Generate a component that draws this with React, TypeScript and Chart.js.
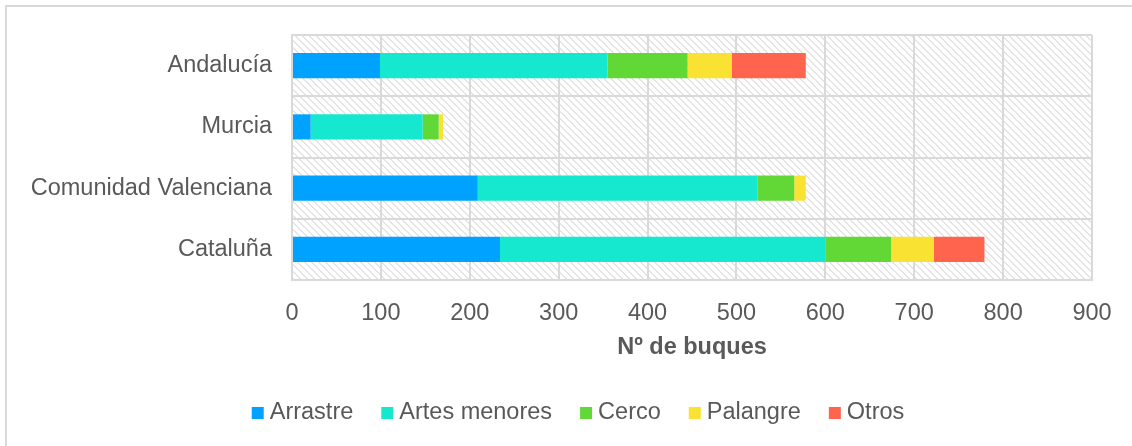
import React, { useEffect, useRef } from "react";
import { Chart, registerables } from "chart.js";

Chart.register(...registerables);

const categories = ["Andalucía", "Murcia", "Comunidad Valenciana", "Cataluña"];
const arrastre = [99, 21, 209, 234];
const artesMenores = [256, 126, 315, 366];
const cerco = [90, 18, 41, 74];
const palangre = [50, 5, 13, 48];
const otros = [83, 0, 0, 57];
const seriesNames = ["Arrastre", "Artes menores", "Cerco", "Palangre", "Otros"];
const seriesColors = ["#00A2FF", "#16E7CF", "#61D836", "#FAE232", "#FF644E"];
const xTickValues = [0, 100, 200, 300, 400, 500, 600, 700, 800, 900];
const xTitle = "Nº de buques";

const FONT_FAMILY = "'Liberation Sans', Arial, sans-serif";
const TEXT_COLOR = "#595959";
const GRID_COLOR = "#d9d9d9";
const FONT_SIZE = 23.5;

function makeHatch(): CanvasPattern | string {
  const size = 7;
  const tile = document.createElement("canvas");
  tile.width = size;
  tile.height = size;
  const t = tile.getContext("2d");
  if (!t) return "#ffffff";
  t.fillStyle = "#ffffff";
  t.fillRect(0, 0, size, size);
  t.fillStyle = "#e4e4e4";
  for (let i = 0; i < size; i++) {
    t.fillRect(i, i, 1, 1);
    t.fillRect((i + 1) % size, i, 1, 1);
  }
  const c = document.createElement("canvas").getContext("2d");
  const p = c ? c.createPattern(tile, "repeat") : null;
  return p || "#ffffff";
}

const hatchPlugin = {
  id: "hatchBg",
  beforeDraw(chart: any) {
    const { ctx, chartArea } = chart;
    if (!chartArea) return;
    ctx.save();
    ctx.fillStyle = chart.$hatch;
    ctx.fillRect(chartArea.left, chartArea.top, chartArea.right - chartArea.left, chartArea.bottom - chartArea.top);
    ctx.restore();
  },
};

const legendPlugin = {
  id: "customLegend",
  afterDraw(chart: any) {
    const ctx = chart.ctx;
    const datasets = chart.data.datasets;
    const box = 12;
    const boxGap = 6;
    const itemGap = 28;
    const centerX = 578;
    const centerY = 413;
    ctx.save();
    ctx.font = `${FONT_SIZE}px ${FONT_FAMILY}`;
    ctx.textBaseline = "middle";
    ctx.textAlign = "left";
    const widths = datasets.map((d: any) => ctx.measureText(d.label).width);
    let total = 0;
    widths.forEach((w: number, i: number) => {
      total += box + boxGap + w + (i < widths.length - 1 ? itemGap : 0);
    });
    let x = centerX - total / 2;
    datasets.forEach((d: any, i: number) => {
      ctx.fillStyle = d.backgroundColor;
      ctx.fillRect(x, centerY - box / 2, box, box);
      x += box + boxGap;
      ctx.fillStyle = TEXT_COLOR;
      ctx.fillText(d.label, x, centerY);
      x += widths[i] + itemGap;
    });
    ctx.restore();
  },
};

export default function App() {
  const canvasRef = useRef<HTMLCanvasElement | null>(null);

  useEffect(() => {
    const canvas = canvasRef.current;
    if (!canvas) return;
    const seriesValues = [arrastre, artesMenores, cerco, palangre, otros];
    const chart: any = new Chart(canvas, {
      type: "bar",
      data: {
        labels: categories,
        datasets: seriesNames.map((name, i) => ({
          label: name,
          data: seriesValues[i],
          backgroundColor: seriesColors[i],
          borderWidth: 0,
          categoryPercentage: 1,
          barPercentage: 0.41,
        })),
      },
      options: {
        indexAxis: "y",
        responsive: false,
        animation: false,
        layout: { padding: { left: 0, top: 35, right: 40, bottom: 83 } },
        plugins: {
          legend: { display: false },
          tooltip: { enabled: false },
          title: { display: false },
        },
        scales: {
          x: {
            stacked: true,
            min: 0,
            max: 900,
            afterBuildTicks: (scale: any) => {
              scale.ticks = xTickValues.map((v) => ({ value: v }));
            },
            afterFit: (scale: any) => {
              scale.height = 83;
            },
            grid: { color: GRID_COLOR, lineWidth: 2, drawTicks: false },
            border: { display: true, color: GRID_COLOR, width: 2 },
            ticks: {
              color: TEXT_COLOR,
              font: { family: FONT_FAMILY, size: FONT_SIZE },
              padding: 19,
              maxRotation: 0,
              autoSkip: false,
            },
            title: {
              display: true,
              text: xTitle,
              color: TEXT_COLOR,
              font: { family: FONT_FAMILY, size: FONT_SIZE, weight: "bold" },
              padding: { top: 0, bottom: 1 },
            },
          },
          y: {
            stacked: true,
            afterFit: (scale: any) => {
              scale.width = 292;
            },
            grid: { color: GRID_COLOR, lineWidth: 2, drawTicks: false, offset: true },
            border: { display: true, color: GRID_COLOR, width: 2 },
            ticks: {
              color: TEXT_COLOR,
              font: { family: FONT_FAMILY, size: FONT_SIZE },
              padding: 20,
              autoSkip: false,
            },
          },
        },
      },
      plugins: [hatchPlugin, legendPlugin],
    });
    chart.$hatch = makeHatch();
    chart.draw();
    return () => {
      chart.destroy();
    };
  }, []);

  return (
    <div style={{ position: "absolute", left: 0, top: 0, width: 1132, height: 446, background: "#ffffff", overflow: "hidden" }}>
      <canvas ref={canvasRef} width={1132} height={446} style={{ position: "absolute", left: 0, top: 0, width: 1132, height: 446 }} />
      <div
        style={{
          position: "absolute",
          left: 5,
          top: 5,
          width: 1140,
          height: 460,
          borderLeft: "2px solid #d9d9d9",
          borderTop: "2px solid #d9d9d9",
          pointerEvents: "none",
        }}
      />
    </div>
  );
}
